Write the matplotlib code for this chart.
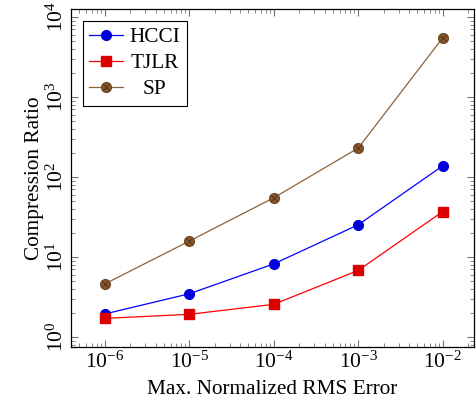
import numpy as np
import matplotlib.pyplot as plt
from matplotlib.ticker import LogLocator, NullFormatter
from matplotlib.legend_handler import HandlerTuple

plt.rcParams['font.family'] = ['Liberation Serif', 'DejaVu Serif']
plt.rcParams['mathtext.fontset'] = 'cm'

err = [1e-6, 1e-5, 1e-4, 1e-3, 1e-2]
hcci = [1.94, 3.47, 8.2, 25.3, 138]
tjlr = [1.71, 1.92, 2.56, 6.8, 37]
sp = [4.6, 15.8, 55, 230, 5500]

fig = plt.figure(figsize=(4.77, 4.05), dpi=100)
ax = fig.add_axes([71 / 477, 1 - 347 / 405, 403 / 477, 338 / 405])

h1, = ax.plot(err, hcci, color='blue', lw=0.9, marker='o', ms=7,
              mfc='#0000dd', mec='#0000dd')
h2, = ax.plot(err, tjlr, color='red', lw=0.9, marker='s', ms=7,
              mfc='#dd0000', mec='#dd0000')
h3, = ax.plot(err, sp, color='#8c6239', lw=0.9, marker='o', ms=7,
              mfc='#8c5a2e', mec='#6e4522')
h3x, = ax.plot(err, sp, ls='none', marker='x', ms=5, mec='#4e3017', mew=0.7)

ax.set_xscale('log')
ax.set_yscale('log')
ax.set_xlim(10 ** -6.4, 10 ** -1.63)
ax.set_ylim(10 ** -0.125, 10 ** 4.1)

ax.xaxis.set_major_locator(LogLocator(base=10, numticks=20))
ax.yaxis.set_major_locator(LogLocator(base=10, numticks=20))
ax.xaxis.set_minor_locator(LogLocator(base=10, subs=np.arange(2, 10), numticks=20))
ax.yaxis.set_minor_locator(LogLocator(base=10, subs=np.arange(2, 10), numticks=20))
ax.xaxis.set_minor_formatter(NullFormatter())
ax.yaxis.set_minor_formatter(NullFormatter())

ax.tick_params(which='both', direction='in', top=True, right=True, color='0.45')
ax.tick_params(which='major', length=5, width=0.8, labelsize=15.5)
ax.tick_params(which='minor', length=3, width=0.6)
ax.tick_params(axis='y', pad=2)
for lab in ax.get_yticklabels():
    lab.set_rotation(90)
    lab.set_va('center')
for s in ax.spines.values():
    s.set_linewidth(0.9)

ax.set_xlabel('Max. Normalized RMS Error', fontsize=15.3, labelpad=5)
ax.set_ylabel('Compression Ratio', fontsize=15.3, labelpad=2)

leg = ax.legend([h1, h2, (h3, h3x)], ['HCCI', 'TJLR', 'SP'],
                handler_map={tuple: HandlerTuple(ndivide=1)},
                loc='upper left', fontsize=15.3, fancybox=False, framealpha=1,
                edgecolor='black', borderaxespad=0.55, handlelength=1.6,
                handletextpad=0.3, borderpad=0.3, labelspacing=0.3)
leg.get_frame().set_linewidth(0.8)

# centre the legend labels like pgfplots does
fig.canvas.draw()
texts = leg.get_texts()
widths = [t.get_window_extent().width for t in texts]
for t, w in zip(texts, widths):
    t.set_x((max(widths) - w) / 2)

fig.savefig('out.png', dpi=100)
